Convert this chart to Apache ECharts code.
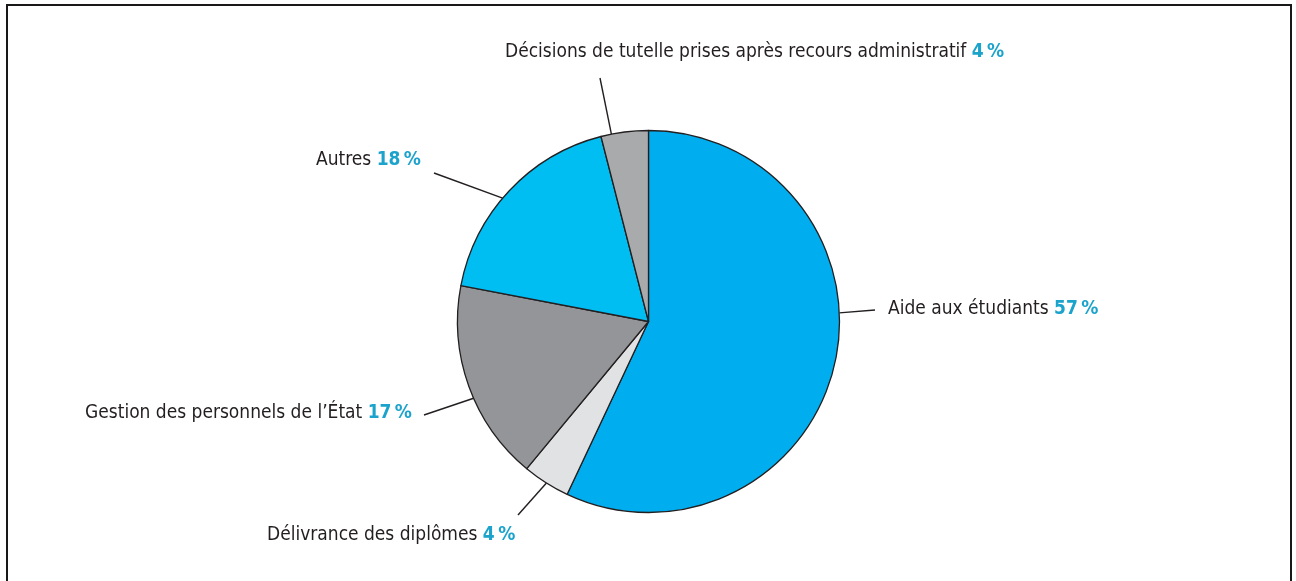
<!DOCTYPE html>
<html>
<head>
<meta charset="utf-8">
<script src="https://cdn.jsdelivr.net/npm/echarts@6/dist/echarts.min.js"></script>
<style>
  html, body { margin: 0; padding: 0; background: #ffffff; }
  #chart { width: 1296px; height: 581px; }
</style>
</head>
<body>
<div id="chart"></div>
<script>
// Slices, clockwise from 12 o'clock
const categories = [
  'Aide aux étudiants',
  'Délivrance des diplômes',
  'Gestion des personnels de l\u2019État',
  'Autres',
  'Décisions de tutelle prises après recours administratif'
];
const shares = [57, 4, 17, 18, 4];
const sliceColors = ['#00aeef', '#e1e2e4', '#939598', '#00bdf2', '#a9aaac'];

// Label placement: [x, y, align] of each label's text anchor
const labelAnchors = [
  [888, 309, 'left'],
  [267, 535, 'left'],
  [412, 413, 'right'],
  [421, 160, 'right'],
  [505, 52, 'left']
];
// Leader lines: angle (deg, clockwise from top) where each meets the rim, and its outer end
const leaderAngles = [87.4, 212.3, 246.3, 310.2, 348.8];
const leaderEnds = [[875, 310], [518, 515], [424, 415], [434, 173], [600, 78]];

const CX = 648.5, CY = 321.5, R = 191;
const FONT = "'Liberation Sans Narrow', 'DejaVu Sans Condensed', 'Liberation Sans', sans-serif";

const chart = echarts.init(document.getElementById('chart'), null, { renderer: 'canvas' });

chart.setOption({
  backgroundColor: '#ffffff',
  animation: false,
  graphic: [{
    type: 'rect',
    shape: { x: 7, y: 5, width: 1284, height: 600 },
    style: { fill: 'none', stroke: '#1a1718', lineWidth: 2 },
    silent: true
  }],
  series: [{
    type: 'pie',
    center: [CX, CY],
    radius: R,
    startAngle: 90,
    clockwise: true,
    avoidLabelOverlap: false,
    silent: true,
    data: categories.map((name, i) => ({
      name: name,
      value: shares[i],
      itemStyle: { color: sliceColors[i] }
    })),
    itemStyle: { borderColor: '#231f20', borderWidth: 1.3 },
    label: {
      show: true,
      position: 'outside',
      formatter: p => '{n|' + p.name + ' }{v|' + p.value + '\u2009%}',
      rich: {
        n: { fontFamily: FONT, fontSize: 19, color: '#231f20' },
        v: { fontFamily: FONT, fontSize: 19, fontWeight: 'bold', color: '#1ba3cc' }
      }
    },
    labelLine: {
      show: true,
      length: 20,
      length2: 0,
      lineStyle: { color: '#231f20', width: 1.4 }
    },
    labelLayout: function (params) {
      const i = params.dataIndex;
      const a = leaderAngles[i] * Math.PI / 180;
      const rim = [CX + R * Math.sin(a), CY - R * Math.cos(a)];
      return {
        x: labelAnchors[i][0],
        y: labelAnchors[i][1],
        align: labelAnchors[i][2],
        verticalAlign: 'middle',
        labelLinePoints: [rim, leaderEnds[i]]
      };
    }
  }]
});
</script>
</body>
</html>
